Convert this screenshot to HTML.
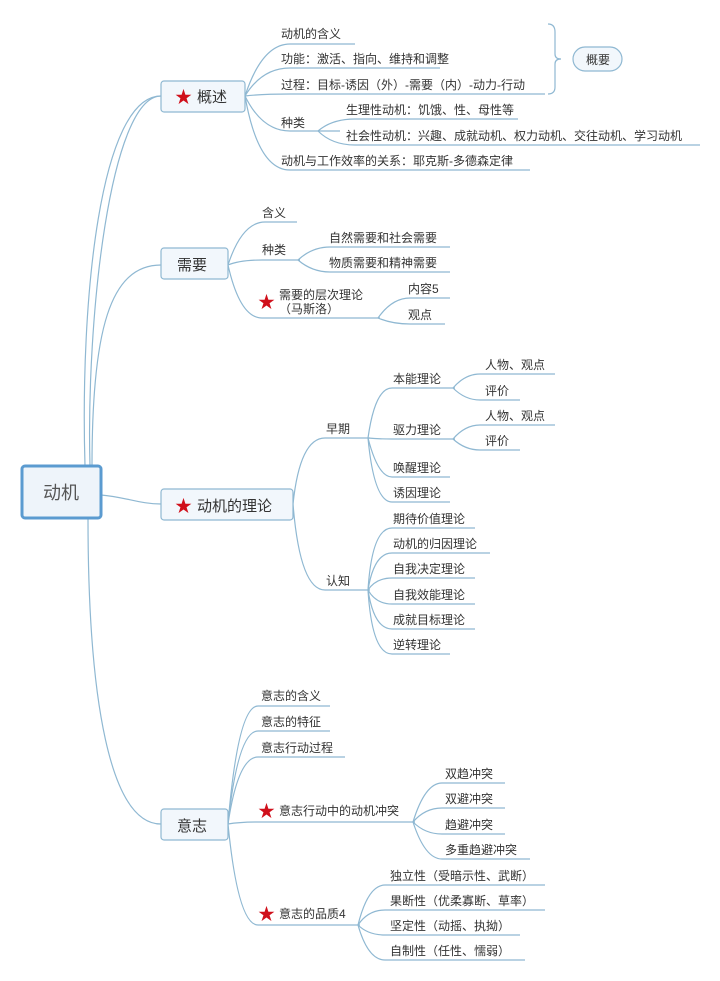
<!DOCTYPE html>
<html><head><meta charset="utf-8"><style>
html,body{margin:0;padding:0;background:#fff;}
svg{display:block;}
text{font-family:"Liberation Sans","Noto Sans CJK SC",sans-serif;fill:#333;font-size:12px;}
.l{fill:none;stroke:#8fb8d2;stroke-width:1.2;}
.b{fill:#f2f7fc;stroke:#8fb8d2;stroke-width:1.2;}
.st{fill:#d0101b;font-size:17px;}
.m{font-size:15px;}
</style></head><body>
<svg width="720" height="981" viewBox="0 0 720 981">
<!-- root to main -->
<path class="l" d="M85,466 C80,300 100,96 161,96"/>
<path class="l" d="M90,466 C86,320 110,96 161,96"/>
<path class="l" d="M92,466 C92,330 110,265 161,265"/>
<path class="l" d="M101,495 C125,497 140,504 161,504"/>
<path class="l" d="M88,518 C88,700 110,824 161,824"/>
<rect x="22" y="466" width="79" height="52" rx="3" fill="#eef4fa" stroke="#5b9bd0" stroke-width="3"/>
<text x="61" y="499" text-anchor="middle" style="font-size:18px;fill:#555">动机</text>

<!-- 概述 -->
<path class="l" d="M245,96 Q262,44 290,44 L355,44"/>
<path class="l" d="M245,96 Q262,68 290,68 L440,68"/>
<path class="l" d="M245,96 Q262,94 290,94 L545,94"/>
<path class="l" d="M245,96 Q262,131 290,131 L340,131"/>
<path class="l" d="M245,96 Q258,170 290,170 L530,170"/>
<path class="l" d="M318,131 Q332,119 355,119 L518,119"/>
<path class="l" d="M318,131 Q332,145 355,145 L700,145"/>
<rect class="b" x="161" y="81" width="84" height="31" rx="3"/>
<text x="175" y="103" class="st">★</text><text x="197" y="102" class="m">概述</text>
<text x="281" y="38">动机的含义</text>
<text x="281" y="63">功能：激活、指向、维持和调整</text>
<text x="281" y="89">过程：目标-诱因（外）-需要（内）-动力-行动</text>
<text x="281" y="127">种类</text>
<text x="346" y="114">生理性动机：饥饿、性、母性等</text>
<text x="346" y="140">社会性动机：兴趣、成就动机、权力动机、交往动机、学习动机</text>
<text x="281" y="165">动机与工作效率的关系：耶克斯-多德森定律</text>
<path class="l" d="M548,24 Q555,24 555,32 L555,54 Q555,59 561,59 Q555,59 555,64 L555,87 Q555,94 548,94"/>
<rect class="b" x="573" y="47" width="49" height="24" rx="12"/>
<text x="586" y="64">概要</text>

<!-- 需要 -->
<path class="l" d="M228,265 Q242,222 265,222 L297,222"/>
<path class="l" d="M228,265 Q240,260 262,260 L300,260"/>
<path class="l" d="M228,265 Q240,318 262,318 L380,318"/>
<path class="l" d="M298,260 Q312,247 330,247 L450,247"/>
<path class="l" d="M298,260 Q312,272 330,272 L450,272"/>
<path class="l" d="M378,318 Q392,298 410,298 L450,298"/>
<path class="l" d="M378,318 Q392,324 410,324 L445,324"/>
<rect class="b" x="161" y="248" width="67" height="31" rx="3"/>
<text x="177" y="270" class="m">需要</text>
<text x="262" y="217">含义</text>
<text x="262" y="254">种类</text>
<text x="329" y="242">自然需要和社会需要</text>
<text x="329" y="267">物质需要和精神需要</text>
<text x="258" y="308" class="st">★</text>
<text x="279" y="299">需要的层次理论</text>
<text x="279" y="313">（马斯洛）</text>
<text x="408" y="293">内容5</text>
<text x="408" y="319">观点</text>

<!-- 理论 -->
<path class="l" d="M293,504 Q300,438 325,438 L370,438"/>
<path class="l" d="M293,504 Q300,590 325,590 L370,590"/>
<path class="l" d="M368,438 Q375,388 392,388 L455,388"/>
<path class="l" d="M368,438 Q378,439 392,439 L455,439"/>
<path class="l" d="M368,438 Q378,477 392,477 L450,477"/>
<path class="l" d="M368,438 Q374,502 392,502 L450,502"/>
<path class="l" d="M453,388 Q465,374 480,374 L555,374"/>
<path class="l" d="M453,388 Q465,400 480,400 L520,400"/>
<path class="l" d="M453,439 Q465,425 480,425 L555,425"/>
<path class="l" d="M453,439 Q465,450 480,450 L520,450"/>
<path class="l" d="M368,590 Q372,528 392,528 L475,528"/>
<path class="l" d="M368,590 Q374,553 392,553 L490,553"/>
<path class="l" d="M368,590 Q376,578 392,578 L475,578"/>
<path class="l" d="M368,590 Q376,604 392,604 L475,604"/>
<path class="l" d="M368,590 Q374,629 392,629 L475,629"/>
<path class="l" d="M368,590 Q372,654 392,654 L450,654"/>
<rect class="b" x="161" y="489" width="132" height="31" rx="3"/>
<text x="175" y="512" class="st">★</text><text x="197" y="511" class="m">动机的理论</text>
<text x="326" y="433">早期</text>
<text x="326" y="585">认知</text>
<text x="393" y="383">本能理论</text>
<text x="393" y="434">驱力理论</text>
<text x="393" y="472">唤醒理论</text>
<text x="393" y="497">诱因理论</text>
<text x="485" y="369">人物、观点</text>
<text x="485" y="395">评价</text>
<text x="485" y="420">人物、观点</text>
<text x="485" y="445">评价</text>
<text x="393" y="523">期待价值理论</text>
<text x="393" y="548">动机的归因理论</text>
<text x="393" y="573">自我决定理论</text>
<text x="393" y="599">自我效能理论</text>
<text x="393" y="624">成就目标理论</text>
<text x="393" y="649">逆转理论</text>

<!-- 意志 -->
<path class="l" d="M228,824 Q238,706 258,706 L330,706"/>
<path class="l" d="M228,824 Q238,731 258,731 L330,731"/>
<path class="l" d="M228,824 Q238,757 258,757 L345,757"/>
<path class="l" d="M228,824 Q240,822 258,822 L415,822"/>
<path class="l" d="M228,824 Q238,925 258,925 L360,925"/>
<path class="l" d="M413,822 Q425,783 442,783 L505,783"/>
<path class="l" d="M413,822 Q425,808 442,808 L505,808"/>
<path class="l" d="M413,822 Q425,834 442,834 L505,834"/>
<path class="l" d="M413,822 Q425,859 442,859 L530,859"/>
<path class="l" d="M358,925 Q368,885 385,885 L545,885"/>
<path class="l" d="M358,925 Q368,910 385,910 L545,910"/>
<path class="l" d="M358,925 Q368,935 385,935 L520,935"/>
<path class="l" d="M358,925 Q368,960 385,960 L525,960"/>
<rect class="b" x="161" y="809" width="67" height="31" rx="3"/>
<text x="177" y="831" class="m">意志</text>
<text x="261" y="700">意志的含义</text>
<text x="261" y="726">意志的特征</text>
<text x="261" y="752">意志行动过程</text>
<text x="258" y="817" class="st">★</text>
<text x="279" y="815">意志行动中的动机冲突</text>
<text x="258" y="920" class="st">★</text>
<text x="279" y="918">意志的品质4</text>
<text x="445" y="778">双趋冲突</text>
<text x="445" y="803">双避冲突</text>
<text x="445" y="829">趋避冲突</text>
<text x="445" y="854">多重趋避冲突</text>
<text x="390" y="880">独立性（受暗示性、武断）</text>
<text x="390" y="905">果断性（优柔寡断、草率）</text>
<text x="390" y="930">坚定性（动摇、执拗）</text>
<text x="390" y="955">自制性（任性、懦弱）</text>
</svg>
</body></html>
